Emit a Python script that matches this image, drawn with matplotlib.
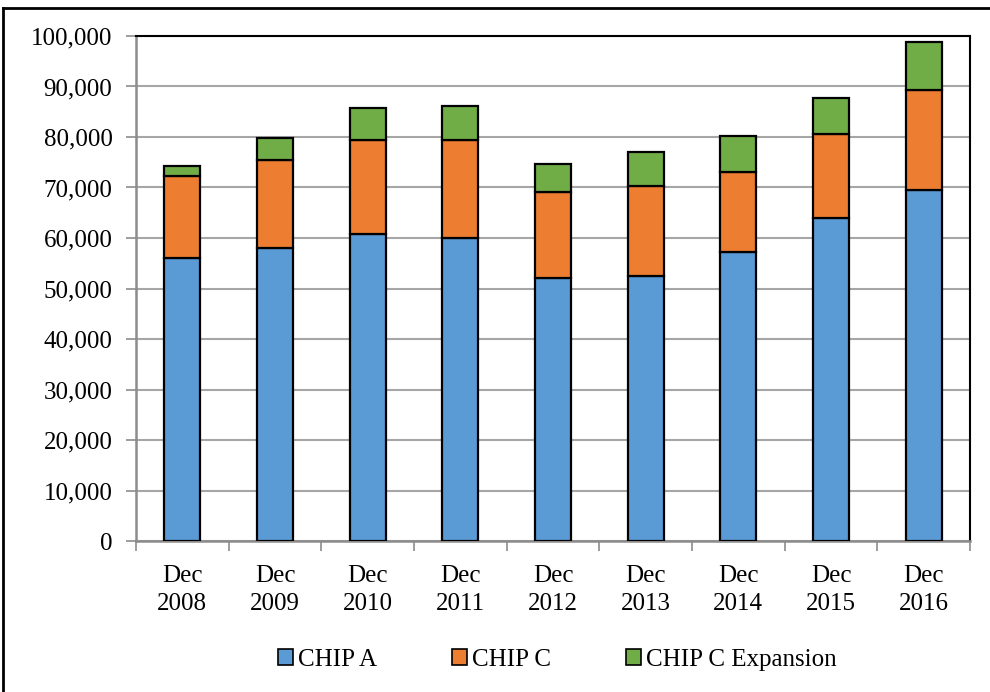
import numpy as np
import matplotlib.pyplot as plt
from matplotlib.lines import Line2D
from matplotlib.patches import Patch

years = ["2008", "2009", "2010", "2011", "2012", "2013", "2014", "2015", "2016"]
labels = ["Dec\n" + y for y in years]
chip_a = [56000, 58000, 60800, 60000, 52000, 52500, 57200, 64000, 69500]
chip_c = [16300, 17400, 18600, 19400, 17100, 17800, 15900, 16600, 19800]
chip_c_exp = [2000, 4400, 6300, 6700, 5600, 6700, 7100, 7100, 9500]
series_names = ["CHIP A", "CHIP C", "CHIP C Expansion"]
colors = ["#5B9BD5", "#ED7D31", "#70AD47"]

plt.rcParams['font.family'] = ['Liberation Serif', 'DejaVu Serif']
plt.rcParams['font.size'] = 18

fig = plt.figure(figsize=(9.9, 6.92), dpi=100)
ax = fig.add_axes([136/990, 1 - 541/692, (970-136)/990, (541-36)/692])

x = np.arange(len(years))
w = 0.39
a = np.array(chip_a)
c = np.array(chip_c)
e = np.array(chip_c_exp)
ax.bar(x, a, w, color=colors[0], edgecolor="black", linewidth=1.6, zorder=3)
ax.bar(x, c, w, bottom=a, color=colors[1], edgecolor="black", linewidth=1.6, zorder=3)
ax.bar(x, e, w, bottom=a + c, color=colors[2], edgecolor="black", linewidth=1.6, zorder=3)

ax.set_xlim(-0.5, len(years) - 0.5)
ax.set_ylim(0, 100000)
ax.set_yticks(np.arange(0, 100001, 10000))
ax.set_yticklabels([f"{v:,}" for v in range(0, 100001, 10000)], fontsize=18)
ax.yaxis.grid(True, color="#A6A6A6", linewidth=1.5, zorder=0)
ax.set_axisbelow(True)

ax.set_xticks(np.arange(-0.5, len(years), 1.0))
ax.set_xticklabels([])
ax.set_xticks(x, minor=True)
ax.set_xticklabels(labels, minor=True, linespacing=1.4, fontsize=18)
ax.tick_params(axis="x", which="minor", length=0, pad=17)
ax.tick_params(axis="x", which="major", length=7, width=1.2, color="#8C8C8C")
ax.tick_params(axis="y", length=7, width=1.2, color="#8C8C8C", pad=10)

for s in ["left", "bottom"]:
    ax.spines[s].set_color("#8C8C8C")
    ax.spines[s].set_linewidth(1.8)
for s in ["top", "right"]:
    ax.spines[s].set_color("black")
    ax.spines[s].set_linewidth(1.5)

handles = [Patch(facecolor=col, edgecolor="black", linewidth=1.2) for col in colors]
fig.legend(handles, series_names, loc="center", bbox_to_anchor=(557/990, 1 - 660/692),
           ncol=3, frameon=False, handlelength=0.6, handleheight=0.6,
           handletextpad=0.2, columnspacing=3.0, fontsize=18)

# outer frame
fig.add_artist(Line2D([3/990, 3/990], [0, 1 - 8/692], color="black", linewidth=2))
fig.add_artist(Line2D([3/990, 1], [1 - 8/692, 1 - 8/692], color="black", linewidth=2))

plt.savefig("out.png", dpi=100)
